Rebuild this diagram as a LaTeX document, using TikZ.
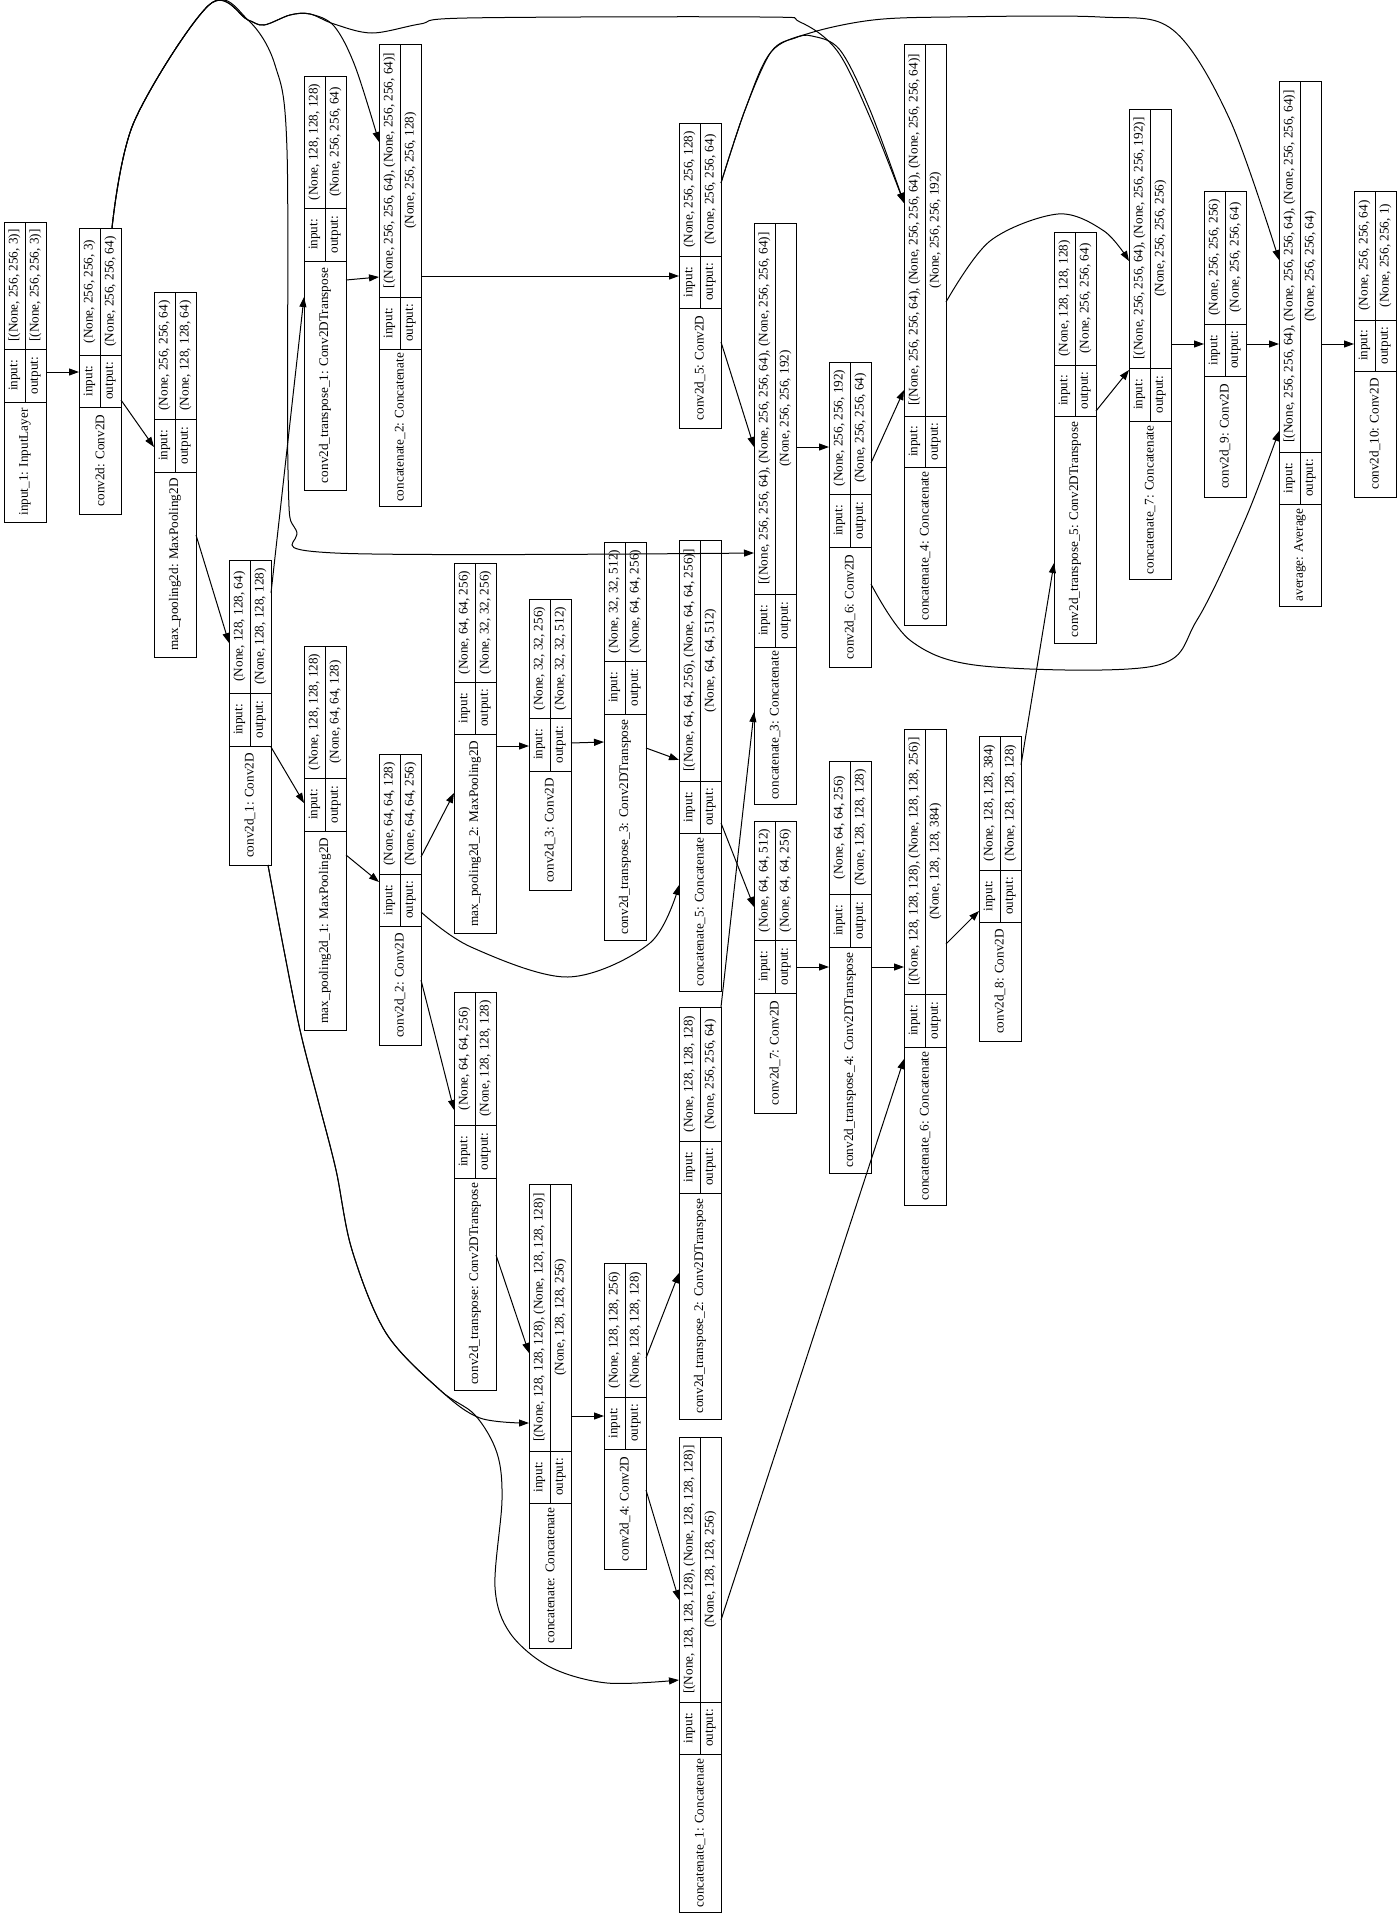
\documentclass[tikz,border=0pt]{standalone}
\usepackage{fontspec}
\setmainfont{Liberation Serif}
\usetikzlibrary{arrows.meta}
\tikzset{
 layer/.style={draw, line width=1pt, inner sep=0pt, outer sep=0pt, minimum width=42pt},
 sepline/.style={line width=1pt},
 txt/.style={rotate=90, inner sep=0pt, font=\fontsize{13.2}{16}\selectfont},
 arr/.style={line width=1pt, -{Triangle[length=10pt,width=7pt]}},
 sm/.style={smooth, tension=0.55},
}
\newcommand\mylay[9]{%
 \pgfmathsetmacro\hh{#6-#3}%
 \node[layer, minimum height=\hh pt, anchor=north west] (#1) at (#2,#3) {};
 \draw[sepline] (#2,#4) -- ++(42,0);
 \draw[sepline] (#2,#5) -- ++(42,0);
 \draw[sepline] ({#2+21},#3) -- ({#2+21},#5);
 \node[txt] at ({#2+10.5},{(#3+#4)/2}) {#7};
 \node[txt] at ({#2+31.5},{(#3+#4)/2}) {#8};
 \node[txt] at ({#2+10.5},{(#4+#5)/2}) {input:};
 \node[txt] at ({#2+31.5},{(#4+#5)/2}) {output:};
 \node[txt] at ({#2+21},{(#5+#6)/2}) {#9};
}
\begin{document}
\begin{tikzpicture}[x=1pt,y=-1pt]
\fill[white] (0,0) rectangle (1400,1917);
\useasboundingbox (0,0) rectangle (1400,1917);

\mylay{in1}{4}{222}{349}{402}{522}{[(None, 256, 256, 3)]}{[(None, 256, 256, 3)]}{input\_1: InputLayer}
\mylay{c2d}{79}{228}{355}{407}{514}{(None, 256, 256, 3)}{(None, 256, 256, 64)}{conv2d: Conv2D}
\mylay{mp}{154}{292}{419}{472}{657}{(None, 256, 256, 64)}{(None, 128, 128, 64)}{max\_pooling2d: MaxPooling2D}
\mylay{c2d1}{229}{560}{693}{746}{865}{(None, 128, 128, 64)}{(None, 128, 128, 128)}{conv2d\_1: Conv2D}
\mylay{ct1}{304}{76}{208}{261}{490}{(None, 128, 128, 128)}{(None, 256, 256, 64)}{conv2d\_transpose\_1: Conv2DTranspose}
\mylay{cat2}{379}{44}{297}{349}{506}{[(None, 256, 256, 64), (None, 256, 256, 64)]}{(None, 256, 256, 128)}{concatenate\_2: Concatenate}
\mylay{mp1}{304}{646}{778}{831}{1030}{(None, 128, 128, 128)}{(None, 64, 64, 128)}{max\_pooling2d\_1: MaxPooling2D}
\mylay{c2d2}{379}{754}{874}{926}{1045}{(None, 64, 64, 128)}{(None, 64, 64, 256)}{conv2d\_2: Conv2D}
\mylay{mp2}{454}{563}{682}{734}{933}{(None, 64, 64, 256)}{(None, 32, 32, 256)}{max\_pooling2d\_2: MaxPooling2D}
\mylay{c2d3}{529}{599}{718}{771}{890}{(None, 32, 32, 256)}{(None, 32, 32, 512)}{conv2d\_3: Conv2D}
\mylay{ct3}{604}{542}{661}{714}{940}{(None, 32, 32, 512)}{(None, 64, 64, 256)}{conv2d\_transpose\_3: Conv2DTranspose}
\mylay{cat5}{679}{540}{781}{833}{991}{[(None, 64, 64, 256), (None, 64, 64, 256)]}{(None, 64, 64, 512)}{concatenate\_5: Concatenate}
\mylay{c2d5}{679}{123}{256}{308}{428}{(None, 256, 256, 128)}{(None, 256, 256, 64)}{conv2d\_5: Conv2D}
\mylay{ct}{454}{992}{1125}{1178}{1390}{(None, 64, 64, 256)}{(None, 128, 128, 128)}{conv2d\_transpose: Conv2DTranspose}
\mylay{cat}{529}{1184}{1451}{1503}{1648}{[(None, 128, 128, 128), (None, 128, 128, 128)]}{(None, 128, 128, 256)}{concatenate: Concatenate}
\mylay{c2d4}{604}{1263}{1397}{1449}{1569}{(None, 128, 128, 256)}{(None, 128, 128, 128)}{conv2d\_4: Conv2D}
\mylay{ct2}{679}{1007}{1141}{1193}{1419}{(None, 128, 128, 128)}{(None, 256, 256, 64)}{conv2d\_transpose\_2: Conv2DTranspose}
\mylay{cat1}{679}{1437}{1702}{1754}{1912}{[(None, 128, 128, 128), (None, 128, 128, 128)]}{(None, 128, 128, 256)}{concatenate\_1: Concatenate}
\mylay{cat3}{754}{223}{594}{647}{804}{[(None, 256, 256, 64), (None, 256, 256, 64), (None, 256, 256, 64)]}{(None, 256, 256, 192)}{concatenate\_3: Concatenate}
\mylay{c2d7}{754}{821}{940}{993}{1113}{(None, 64, 64, 512)}{(None, 64, 64, 256)}{conv2d\_7: Conv2D}
\mylay{c2d6}{829}{362}{494}{547}{667}{(None, 256, 256, 192)}{(None, 256, 256, 64)}{conv2d\_6: Conv2D}
\mylay{ct4}{829}{761}{894}{947}{1173}{(None, 64, 64, 256)}{(None, 128, 128, 128)}{conv2d\_transpose\_4: Conv2DTranspose}
\mylay{cat4}{904}{44}{416}{467}{625}{[(None, 256, 256, 64), (None, 256, 256, 64), (None, 256, 256, 64)]}{(None, 256, 256, 192)}{concatenate\_4: Concatenate}
\mylay{cat6}{904}{729}{994}{1047}{1205}{[(None, 128, 128, 128), (None, 128, 128, 256)]}{(None, 128, 128, 384)}{concatenate\_6: Concatenate}
\mylay{c2d8}{979}{736}{870}{922}{1041}{(None, 128, 128, 384)}{(None, 128, 128, 128)}{conv2d\_8: Conv2D}
\mylay{ct5}{1054}{232}{365}{416}{643}{(None, 128, 128, 128)}{(None, 256, 256, 64)}{conv2d\_transpose\_5: Conv2DTranspose}
\mylay{cat7}{1129}{109}{368}{421}{579}{[(None, 256, 256, 64), (None, 256, 256, 192)]}{(None, 256, 256, 256)}{concatenate\_7: Concatenate}
\mylay{c2d9}{1204}{191}{324}{376}{497}{(None, 256, 256, 256)}{(None, 256, 256, 64)}{conv2d\_9: Conv2D}
\mylay{avg}{1279}{81}{452}{504}{606}{[(None, 256, 256, 64), (None, 256, 256, 64), (None, 256, 256, 64)]}{(None, 256, 256, 64)}{average: Average}
\mylay{c2d10}{1354}{191}{320}{371}{497}{(None, 256, 256, 64)}{(None, 256, 256, 1)}{conv2d\_10: Conv2D}

% straight connectors
\draw[arr] (in1.east |- 0,372) -- (c2d.west |- 0,372);
\draw[arr] (c2d.east |- 0,400) -- (mp.west |- 0,447);
\draw[arr] (mp.east |- 0,535) -- (c2d1.west |- 0,643);
\draw[arr] (c2d1.east |- 0,593) -- (ct1.west |- 0,297);
\draw[arr] (c2d1.east |- 0,747) -- (mp1.west |- 0,803);
\draw[arr] (ct1.east |- 0,280) -- (cat2.west |- 0,277);
\draw[arr] (cat2.east |- 0,276) -- (c2d5.west |- 0,276);
\draw[arr] (mp1.east |- 0,855) -- (c2d2.west |- 0,882);
\draw[arr] (c2d2.east |- 0,857) -- (mp2.west |- 0,793);
\draw[arr] (c2d2.east |- 0,980) -- (ct.west |- 0,1110);
\draw[arr] (mp2.east |- 0,746) -- (c2d3.west |- 0,746);
\draw[arr] (c2d3.east |- 0,743) -- (ct3.west |- 0,742);
\draw[arr] (ct3.east |- 0,748) -- (cat5.west |- 0,760);
\draw[arr] (ct.east |- 0,1255) -- (cat.west |- 0,1353);
\draw[arr] (cat.east |- 0,1416) -- (c2d4.west |- 0,1416);
\draw[arr] (c2d4.east |- 0,1358) -- (ct2.west |- 0,1273);
\draw[arr] (c2d4.east |- 0,1490) -- (cat1.west |- 0,1600);
\draw[arr] (c2d5.east |- 0,342) -- (cat3.west |- 0,447);
\draw[arr] (cat5.east |- 0,823) -- (c2d7.west |- 0,907);
\draw[arr] (ct2.north east) -- (cat3.west |- 0,712);
\draw[arr] (cat1.east |- 0,1620) -- (cat6.west |- 0,1059);
\draw[arr] (cat3.east |- 0,447) -- (c2d6.west |- 0,447);
\draw[arr] (c2d7.east |- 0,967) -- (ct4.west |- 0,967);
\draw[arr] (c2d6.east |- 0,463) -- (cat4.west |- 0,390);
\draw[arr] (ct4.east |- 0,967) -- (cat6.west |- 0,967);
\draw[arr] (cat6.east |- 0,944) -- (c2d8.west |- 0,911);
\draw[arr] (c2d8.east |- 0,765) -- (ct5.west |- 0,563);
\draw[arr] (ct5.east |- 0,411) -- (cat7.west |- 0,370);
\draw[arr] (cat7.east |- 0,344) -- (c2d9.west |- 0,344);
\draw[arr] (c2d9.east |- 0,344) -- (avg.west |- 0,344);
\draw[arr] (avg.east |- 0,344) -- (c2d10.west |- 0,344);

% curved connectors
\draw[arr] plot[sm] coordinates {(112,0 |- c2d.north) (134,122) (209,5) (248,20) (264,25) (290,15) (310,14) (334,26) (355,66) (cat2.west |- 0,142)};
\draw[arr] plot[sm] coordinates {(112,0 |- c2d.north) (134,122) (209,5) (248,20) (275,65) (287,150) (288,470) (296,530) (335,553) (cat3.west |- 0,553)};
\draw[arr] plot[sm] coordinates {(112,0 |- c2d.north) (134,122) (209,5) (248,20) (264,25) (290,15) (310,14) (334,24) (372,33) (420,24) (467,18) (760,17) (800,22) (838,52) (872,122) (cat4.west |- 0,203)};
\draw[arr] plot[sm] coordinates {(268,0 |- c2d1.south) (282,940) (300,1030) (318,1100) (336,1170) (352,1250) (386,1333) (440,1390) (480,1418) (cat.west |- 0,1423)};
\draw[arr] plot[sm] coordinates {(268,0 |- c2d1.south) (282,940) (300,1030) (318,1100) (336,1170) (352,1250) (386,1333) (440,1390) (475,1415) (497,1453) (502,1500) (495,1587) (510,1633) (550,1667) (607,1683) (cat1.west |- 0,1680)};
\draw[arr] plot[sm] coordinates {(c2d2.east |- 0,912) (471,947) (568,977) (650,943) (cat5.west |- 0,885)};
\draw[arr] plot[sm] coordinates {(c2d5.east |- 0,183) (745,110) (771,52) (795,38) (812,36) (840,50) (870,110) (cat4.west |- 0,203)};
\draw[arr] plot[sm] coordinates {(c2d5.east |- 0,183) (745,110) (771,52) (810,33) (873,20) (950,17) (1100,17) (1173,30) (1230,120) (avg.west |- 0,260)};
\draw[arr] plot[sm] coordinates {(c2d6.east |- 0,584) (911,641) (983,666) (1154,666) (1197,620) (1245,520) (avg.west |- 0,431)};
\draw[arr] plot[sm] coordinates {(cat4.east |- 0,302) (990,241) (1058,214) (1104,231) (cat7.west |- 0,261)};
\end{tikzpicture}
\end{document}
